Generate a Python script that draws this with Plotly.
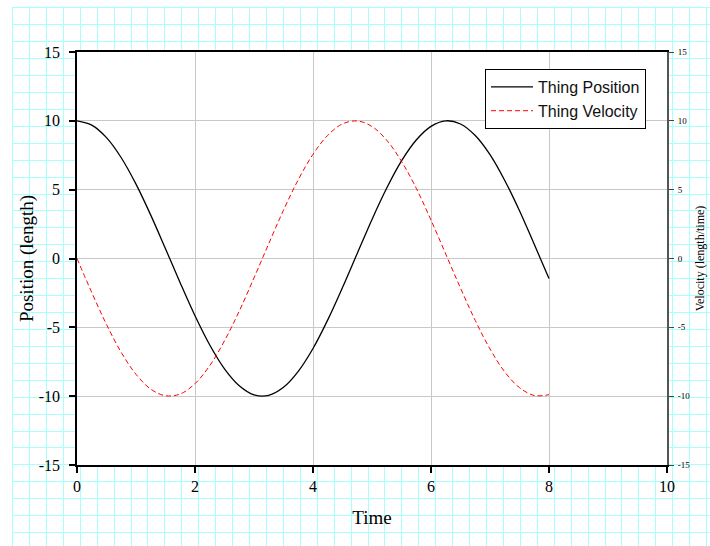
import plotly.graph_objects as go

# ---- data ----
time = [0, 0.25, 0.5, 0.75, 1.0, 1.25, 1.5, 1.75, 2.0, 2.25, 2.5, 2.75, 3.0, 3.25, 3.5, 3.75,
        4.0, 4.25, 4.5, 4.75, 5.0, 5.25, 5.5, 5.75, 6.0, 6.25, 6.5, 6.75, 7.0, 7.25, 7.5, 7.75, 8.0]
position = [10.00, 9.69, 8.78, 7.32, 5.40, 3.15, 0.71, -1.78, -4.16, -6.28, -8.01, -9.24, -9.90,
            -9.94, -9.36, -8.20, -6.54, -4.46, -2.11, 0.37, 2.84, 5.12, 7.09, 8.61, 9.60, 10.00,
            9.77, 8.93, 7.54, 5.67, 3.47, 1.03, -1.46]
velocity = [0.00, -2.47, -4.79, -6.82, -8.41, -9.49, -9.97, -9.84, -9.09, -7.78, -5.98, -3.82, -1.41,
            1.08, 3.51, 5.72, 7.57, 8.95, 9.78, 9.99, 9.59, 8.59, 7.06, 5.10, 2.79, 0.32, -2.15,
            -4.50, -6.57, -8.24, -9.38, -9.95, -9.89]
x_ticks = [0, 2, 4, 6, 8, 10]
x_tick_labels = ["0", "2", "4", "6", "8", "10"]
y_ticks = [-15, -10, -5, 0, 5, 10, 15]
y_tick_labels = ["-15", "-10", "-5", "0", "5", "10", "15"]

W, H = 710, 546
L, R, T, B = 77, 667, 52, 465  # plot area in pixels
PW, PH = R - L, B - T

def px(x):
    return (x - L) / PW

def py(y):
    return (B - y) / PH

fig = go.Figure()
fig.add_trace(go.Scatter(x=time, y=position, name="Thing Position", mode="lines",
                         line=dict(color="black", width=1.3, shape="spline")))
fig.add_trace(go.Scatter(x=time, y=velocity, name="Thing Velocity", mode="lines", yaxis="y2",
                         line=dict(color="#ff0000", width=1, dash="5px,3px", shape="spline")))

# graph-paper background (pixel-snapped lines)
shapes = []
gc = "#a8ffff"
step = 16.93
k = 0
while 12 + k * step <= W + 1:
    xx = round(12 + k * step) + 0.5
    shapes.append(dict(type="line", xref="paper", yref="paper", x0=px(xx), x1=px(xx),
                       y0=py(7), y1=py(H + 2), line=dict(color=gc, width=1), layer="below"))
    k += 1
k = 0
while 7.3 + k * step <= H + 1:
    yy = round(7.3 + k * step) + 0.5
    shapes.append(dict(type="line", xref="paper", yref="paper", x0=px(12), x1=px(W + 2),
                       y0=py(yy), y1=py(yy), line=dict(color=gc, width=1), layer="below"))
    k += 1
shapes.append(dict(type="rect", xref="paper", yref="paper", x0=0, x1=1, y0=0, y1=1,
                   fillcolor="white", line=dict(width=0), layer="below"))

serif = "Liberation Serif, Times New Roman, serif"

fig.update_layout(
    width=W, height=H,
    margin=dict(l=L, r=W - R, t=T, b=H - B, pad=0, autoexpand=False),
    paper_bgcolor="white", plot_bgcolor="rgba(0,0,0,0)",
    shapes=shapes,
    showlegend=True,
    legend=dict(x=px(646), y=py(69), xanchor="right", yanchor="top",
                bgcolor="white", bordercolor="black", borderwidth=1,
                font=dict(family="Liberation Sans, Arial, sans-serif", size=16, color="#111"),
                tracegroupgap=0, itemwidth=42),
    xaxis=dict(range=[0, 10], tickvals=x_ticks, ticktext=x_tick_labels, ticks="outside", ticklen=6,
               tickwidth=1.5, tickcolor="black", showline=True, linecolor="black", linewidth=1.5,
               mirror=True, showgrid=True, gridcolor="#c8c8c8", gridwidth=1, zeroline=False,
               automargin=False,
               tickfont=dict(family=serif, size=16, color="black"),
               title=dict(text="Time", font=dict(family=serif, size=19, color="black"), standoff=17)),
    yaxis=dict(range=[-15, 15], tickvals=y_ticks, ticktext=y_tick_labels, ticks="outside", ticklen=6,
               tickwidth=1.5, tickcolor="black", showline=True, linecolor="black", linewidth=1.5,
               automargin=False, showgrid=True, gridcolor="#c8c8c8", gridwidth=1, zeroline=False,
               ticklabelstandoff=6,
               tickfont=dict(family=serif, size=16, color="black"),
               title=dict(text="Position (length)", font=dict(family=serif, size=19, color="black"),
                          standoff=0)),
    yaxis2=dict(range=[-15, 15], tickvals=y_ticks, ticktext=y_tick_labels, overlaying="y", side="right",
                ticks="outside", ticklen=5, tickwidth=1, tickcolor="#444", automargin=False,
                showline=True, linecolor="#555", linewidth=2, showgrid=False, zeroline=False,
                ticklabelstandoff=2,
                tickfont=dict(family=serif, size=9, color="black"),
                title=dict(text="Velocity (length/time)", font=dict(family=serif, size=12, color="black"),
                           standoff=6)),
)

fig.write_html("out.html", config={"displayModeBar": False},
               post_script="document.body.style.margin='0';document.body.style.padding='0';")
